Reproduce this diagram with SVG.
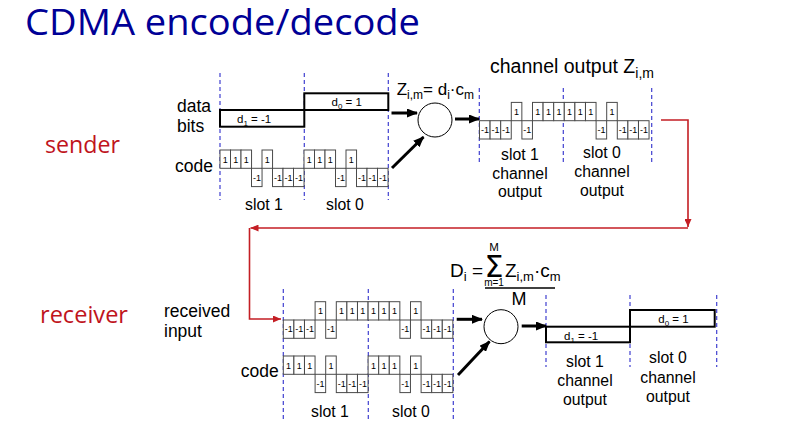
<svg xmlns="http://www.w3.org/2000/svg" width="800" height="446" viewBox="0 0 800 446">
<style>
.t{font-family:"Liberation Sans",Arial,sans-serif;fill:#000}
.lb{font-size:17.5px}
.sl{font-size:15.8px;text-anchor:middle}
.cr{fill:#fff;stroke:#4a4a4a;stroke-width:1}
.ct{font-family:"Liberation Sans",Arial,sans-serif;font-size:9px;text-anchor:middle;fill:#000}
.dash{stroke:#4040d0;stroke-width:1.2;stroke-dasharray:4 3;fill:none}
.bit{fill:#fff;stroke:#000;stroke-width:2}
.bt{font-family:"Liberation Sans",Arial,sans-serif;font-size:11.5px;fill:#000}
.arr{stroke:#000;stroke-width:3;fill:none;marker-end:url(#ah)}
.red{stroke:#c41e24;stroke-width:1.6;fill:none;marker-end:url(#rh)}
.big{font-family:"Open Sans","Noto Sans",sans-serif;fill:#c0141c;font-size:23px}
</style>
<defs>
<marker id="ah" markerUnits="userSpaceOnUse" markerWidth="11" markerHeight="9" refX="10" refY="4.5" orient="auto"><path d="M0,0 L11,4.5 L0,9 z" fill="#000"/></marker>
<marker id="rh" markerUnits="userSpaceOnUse" markerWidth="8" markerHeight="7" refX="8" refY="3.5" orient="auto"><path d="M0,0 L8,3.5 L0,7 z" fill="#c41e24"/></marker>
<g id="u"><rect class="cr" x="0" y="-18.3" width="10.55" height="18.3"/><text class="ct" x="5.3" y="-5.8">1</text></g>
<g id="d"><rect class="cr" x="0" y="0" width="10.55" height="18.3"/><text class="ct" x="5.4" y="12.3">-1</text></g>
</defs>
<rect width="800" height="446" fill="#fff"/>

<g id="title"><text x="25" y="35" font-family="'Open Sans','Noto Sans',sans-serif" font-size="37" fill="#000096" textLength="395" lengthAdjust="spacingAndGlyphs">CDMA encode/decode</text></g>
<g id="sender-label"><text class="big" x="45" y="153" textLength="75" lengthAdjust="spacingAndGlyphs">sender</text></g>
<g id="receiver-label"><text class="big" x="40" y="323" textLength="88" lengthAdjust="spacingAndGlyphs">receiver</text></g>

<g id="sender-data">
<line class="dash" x1="220" y1="73" x2="220" y2="200"/>
<line class="dash" x1="304.3" y1="73" x2="304.3" y2="200"/>
<line class="dash" x1="388.3" y1="73" x2="388.3" y2="200"/>
<text class="t lb" x="177" y="111.7">data</text>
<text class="t lb" x="177" y="131.7">bits</text>
<rect class="bit" x="220" y="110" width="84.3" height="16.7"/>
<rect class="bit" x="304.3" y="93.3" width="84" height="16.7"/>
<text class="bt" x="237" y="123">d<tspan font-size="8" dy="2.5">1</tspan><tspan dy="-2.5"> = -1</tspan></text>
<text class="bt" x="331.5" y="106">d<tspan font-size="8" dy="2.5">0</tspan><tspan dy="-2.5"> = 1</tspan></text>
</g>

<g id="sender-code">
<text class="t lb" x="175" y="171.7">code</text>
<use href="#u" x="220" y="168.3"/><use href="#u" x="230.5" y="168.3"/><use href="#u" x="241" y="168.3"/><use href="#d" x="251.5" y="168.3"/>
<use href="#u" x="262" y="168.3"/><use href="#d" x="272.5" y="168.3"/><use href="#d" x="283" y="168.3"/><use href="#d" x="293.5" y="168.3"/>
<use href="#u" x="304" y="168.3"/><use href="#u" x="314.5" y="168.3"/><use href="#u" x="325" y="168.3"/><use href="#d" x="335.5" y="168.3"/>
<use href="#u" x="346" y="168.3"/><use href="#d" x="356.5" y="168.3"/><use href="#d" x="367" y="168.3"/><use href="#d" x="377.5" y="168.3"/>
<text class="t sl" x="264" y="210">slot 1</text>
<text class="t sl" x="345" y="210">slot 0</text>
</g>

<g id="encoder">
<circle cx="435" cy="120" r="17" fill="#fff" stroke="#000" stroke-width="1"/>
<text class="t" x="396.7" y="95" font-size="17">Z<tspan font-size="12" dy="4">i,m</tspan><tspan dy="-4">= d</tspan><tspan font-size="12" dy="4">i</tspan><tspan dy="-4">·c</tspan><tspan font-size="12" dy="4">m</tspan></text>
</g>

<g id="channel-output">
<line class="dash" x1="479.3" y1="88" x2="479.3" y2="162"/>
<line class="dash" x1="563.3" y1="88" x2="563.3" y2="162"/>
<line class="dash" x1="651.7" y1="88" x2="651.7" y2="162"/>
<text class="t" x="490" y="73" font-size="19.5">channel output Z<tspan font-size="14" dy="5">i,m</tspan></text>
<use href="#d" x="479.5" y="120.7"/><use href="#d" x="490.1" y="120.7"/><use href="#d" x="500.7" y="120.7"/><use href="#u" x="511.3" y="120.7"/>
<use href="#d" x="521.9" y="120.7"/><use href="#u" x="532.5" y="120.7"/><use href="#u" x="543.1" y="120.7"/><use href="#u" x="553.7" y="120.7"/>
<use href="#u" x="564.3" y="120.7"/><use href="#u" x="574.9" y="120.7"/><use href="#u" x="585.5" y="120.7"/><use href="#d" x="596.1" y="120.7"/>
<use href="#u" x="606.7" y="120.7"/><use href="#d" x="617.3" y="120.7"/><use href="#d" x="627.9" y="120.7"/><use href="#d" x="638.5" y="120.7"/>
<text class="t sl" x="520" y="160">slot 1</text>
<text class="t sl" x="520" y="178.5">channel</text>
<text class="t sl" x="520" y="197">output</text>
<text class="t sl" x="602" y="158">slot 0</text>
<text class="t sl" x="602" y="177">channel</text>
<text class="t sl" x="602" y="195.5">output</text>
</g>

<g id="received-input">
<line class="dash" x1="283.3" y1="289" x2="283.3" y2="421"/>
<line class="dash" x1="368.3" y1="289" x2="368.3" y2="421"/>
<line class="dash" x1="453.3" y1="289" x2="453.3" y2="421"/>
<text class="t lb" x="164" y="317.3">received</text>
<text class="t lb" x="164" y="336.7">input</text>
<use href="#d" x="283.3" y="320"/><use href="#d" x="293.9" y="320"/><use href="#d" x="304.5" y="320"/><use href="#u" x="315.1" y="320"/>
<use href="#d" x="325.7" y="320"/><use href="#u" x="336.3" y="320"/><use href="#u" x="346.9" y="320"/><use href="#u" x="357.5" y="320"/>
<use href="#u" x="368.1" y="320"/><use href="#u" x="378.7" y="320"/><use href="#u" x="389.3" y="320"/><use href="#d" x="399.9" y="320"/>
<use href="#u" x="410.5" y="320"/><use href="#d" x="421.1" y="320"/><use href="#d" x="431.7" y="320"/><use href="#d" x="442.3" y="320"/>
</g>

<g id="receiver-code">
<text class="t lb" x="240.7" y="377.3">code</text>
<use href="#u" x="283.3" y="374.3"/><use href="#u" x="293.9" y="374.3"/><use href="#u" x="304.5" y="374.3"/><use href="#d" x="315.1" y="374.3"/>
<use href="#u" x="325.7" y="374.3"/><use href="#d" x="336.3" y="374.3"/><use href="#d" x="346.9" y="374.3"/><use href="#d" x="357.5" y="374.3"/>
<use href="#u" x="368.1" y="374.3"/><use href="#u" x="378.7" y="374.3"/><use href="#u" x="389.3" y="374.3"/><use href="#d" x="399.9" y="374.3"/>
<use href="#u" x="410.5" y="374.3"/><use href="#d" x="421.1" y="374.3"/><use href="#d" x="431.7" y="374.3"/><use href="#d" x="442.3" y="374.3"/>
<text class="t sl" x="330" y="416.7">slot 1</text>
<text class="t sl" x="411" y="416.7">slot 0</text>
</g>

<g id="decoder">
<circle cx="501" cy="326.7" r="17" fill="#fff" stroke="#000" stroke-width="1"/>
<text class="t" x="450" y="276.7" font-size="19">D<tspan font-size="13" dy="4">i</tspan><tspan dy="-4"> =</tspan></text>
<text class="t" x="494" y="251" font-size="11.5" text-anchor="middle">M</text>
<text x="494" y="277" font-family="'DejaVu Sans',sans-serif" font-size="30" text-anchor="middle" fill="#000">Σ</text>
<text class="t" x="494" y="286" font-size="10" text-anchor="middle">m=1</text>
<text class="t" x="505" y="276.7" font-size="19">Z<tspan font-size="13" dy="4">i,m</tspan><tspan dy="-4">·c</tspan><tspan font-size="13" dy="4">m</tspan></text>
<line x1="485" y1="288" x2="555" y2="288" stroke="#000" stroke-width="1.5"/>
<text class="t" x="519" y="305" font-size="18" text-anchor="middle">M</text>
</g>

<g id="receiver-output">
<line class="dash" x1="546" y1="295" x2="546" y2="367"/>
<line class="dash" x1="630" y1="295" x2="630" y2="367"/>
<line class="dash" x1="716.7" y1="295" x2="716.7" y2="367"/>
<rect class="bit" x="546" y="326.7" width="84" height="15.6"/>
<rect class="bit" x="630" y="310" width="84.7" height="16.7"/>
<text class="bt" x="564" y="340">d<tspan font-size="8" dy="2.5">1</tspan><tspan dy="-2.5"> = -1</tspan></text>
<text class="bt" x="658.3" y="323.3">d<tspan font-size="8" dy="2.5">0</tspan><tspan dy="-2.5"> = 1</tspan></text>
<text class="t sl" x="585" y="366.7">slot 1</text>
<text class="t sl" x="585" y="386">channel</text>
<text class="t sl" x="585" y="405">output</text>
<text class="t sl" x="668" y="363">slot 0</text>
<text class="t sl" x="668" y="382.7">channel</text>
<text class="t sl" x="668" y="401.7">output</text>
</g>

<g id="connectors">
<line class="arr" x1="391.5" y1="113" x2="417" y2="113"/>
<line class="arr" x1="392" y1="168" x2="423.5" y2="137"/>
<line class="arr" x1="455" y1="119" x2="479" y2="119"/>
<line class="arr" x1="456.7" y1="319.3" x2="482" y2="319.3"/>
<line class="arr" x1="458" y1="375" x2="489.5" y2="341.5"/>
<line class="arr" x1="521.7" y1="326" x2="546" y2="326"/>
<path class="red" d="M661,120 H688 V227"/>
<path class="red" d="M688,228 H250.5"/>
<path class="red" d="M249.5,228 V319 H281"/>
</g>
</svg>
